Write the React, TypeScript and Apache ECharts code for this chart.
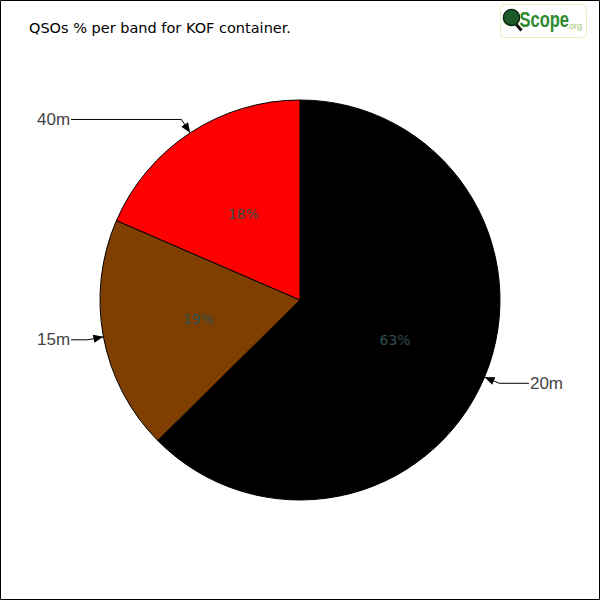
import React, { useEffect, useRef } from "react";
import * as echarts from "echarts";

const title = "QSOs % per band for KOF container.";
const bands = ["20m", "15m", "40m"];
const shares = [62.6, 18.9, 18.5];
const bandColors = ["#000000", "#7f3f00", "#ff0000"];

const CX = 300;
const CY = 300;
const R = 200;

function arrowHeads() {
  const total = shares.reduce((a, b) => a + b, 0);
  let cum = 0;
  return shares.map((v) => {
    const midFrac = (cum + v / 2) / total;
    cum += v;
    const ang = ((90 - midFrac * 360) * Math.PI) / 180;
    const ux = Math.cos(ang);
    const uy = -Math.sin(ang);
    const tx = CX + R * ux;
    const ty = CY + R * uy;
    const bx = tx + ux * 10;
    const by = ty + uy * 10;
    const px = -uy;
    const py = ux;
    return {
      type: "polygon",
      silent: true,
      z: 100,
      shape: {
        points: [
          [tx, ty],
          [bx + px * 4, by + py * 4],
          [bx - px * 4, by - py * 4],
        ],
      },
      style: { fill: "#000" },
    };
  });
}

export default function App() {
  const ref = useRef<HTMLDivElement>(null);
  useEffect(() => {
    document.body.style.margin = "0";
    const chart = echarts.init(ref.current!, null, { renderer: "svg" });
    const data = bands.map((b, i) => ({
      name: b,
      value: shares[i],
      itemStyle: { color: bandColors[i] },
    }));
    chart.setOption({
      animation: false,
      backgroundColor: "#ffffff",
      title: {
        text: title,
        left: 24,
        top: 15,
        textStyle: {
          fontFamily: "'DejaVu Sans', sans-serif",
          fontSize: 14.5,
          fontWeight: "normal",
          color: "#000",
        },
      },
      graphic: [
        {
          type: "rect",
          silent: true,
          shape: { x: 0.5, y: 0.5, width: 599, height: 599 },
          style: { fill: "none", stroke: "#000", lineWidth: 1 },
        },
        {
          type: "group",
          left: 500,
          top: 4,
          children: [
            {
              type: "rect",
              shape: { x: 0, y: 0, width: 86, height: 33, r: 4 },
              style: { fill: "#ffffff", stroke: "#e4efc0", lineWidth: 1 },
            },
            {
              type: "line",
              shape: { x1: 14, y1: 18, x2: 21, y2: 26 },
              style: { stroke: "#111", lineWidth: 3 },
            },
            {
              type: "circle",
              shape: { cx: 11, cy: 13, r: 8 },
              style: { fill: "#1d5a2a", stroke: "#0a2a10", lineWidth: 1.5 },
            },
            {
              type: "text",
              x: 19,
              y: 4,
              scaleX: 0.75,
              style: {
                x: 0,
                y: 0,
                text: "Scope",
                fill: "#2f8a2f",
                font: "bold 22px 'Liberation Sans', sans-serif",
              },
            },
            {
              type: "text",
              style: {
                x: 66,
                y: 17,
                text: ".org",
                fill: "#9cc86a",
                font: "9px sans-serif",
              },
            },
          ],
        },
        ...arrowHeads(),
      ],
      series: [
        {
          type: "pie",
          center: [CX, CY],
          radius: R,
          startAngle: 90,
          clockwise: true,
          percentPrecision: 0,
          silent: true,
          itemStyle: { borderColor: "#000", borderWidth: 1 },
          label: {
            show: true,
            position: "inside",
            formatter: "{d}%",
            color: "#2f4f4f",
            fontSize: 14,
            fontFamily: "'DejaVu Sans', sans-serif",
          },
          labelLine: { show: false },
          emphasis: { disabled: true },
          data,
        },
        {
          type: "pie",
          center: [CX, CY],
          radius: R,
          startAngle: 90,
          clockwise: true,
          silent: true,
          itemStyle: { color: "rgba(0,0,0,0)", borderWidth: 0 },
          label: {
            show: true,
            position: "outside",
            formatter: "{b}",
            color: "#444",
            fontSize: 17,
            fontFamily: "'Liberation Sans', sans-serif",
            alignTo: "edge",
            edgeDistance: 37,
            distanceToLabelLine: 1,
            overflow: "none",
          },
          labelLine: {
            show: true,
            length: 16,
            length2: 20,
            lineStyle: { color: "#000", width: 1 },
          },
          emphasis: { disabled: true },
          data: bands.map((b, i) => ({ name: b, value: shares[i] })),
        },
      ],
    });
    return () => chart.dispose();
  }, []);
  return <div ref={ref} style={{ width: 600, height: 600 }} />;
}
